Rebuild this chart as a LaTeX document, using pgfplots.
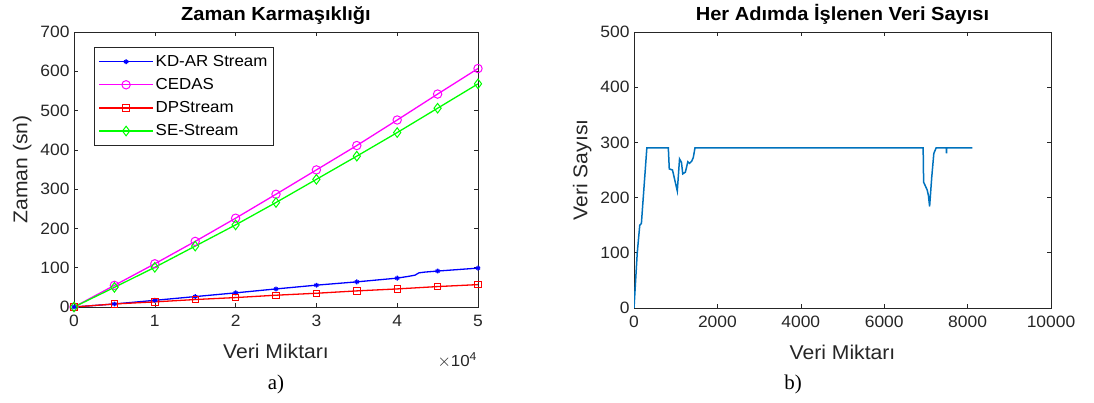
\documentclass[border=0pt]{standalone}
\usepackage{fontspec}
\setmainfont{Liberation Sans}[FakeStretch=1.06]
\newfontfamily\capfont{Liberation Serif}
\usepackage{pgfplots}
\pgfplotsset{compat=1.18}
\definecolor{axgray}{rgb}{0.15,0.15,0.15}
\definecolor{mblue}{rgb}{0,0.447,0.741}
\definecolor{mmag}{rgb}{1,0,1}
\definecolor{mgreen}{rgb}{0,1,0}
\definecolor{mred}{rgb}{1,0,0}
\definecolor{mbl}{rgb}{0,0,1}
\pgfplotsset{
  mstyle/.style={
    scale only axis,
    axis line style={axgray, line width=0.6bp},
    tick style={axgray, line width=0.6bp},
    tick align=inside,
    major tick length=4bp,
    ticklabel style={font=\fontsize{16.5}{16.5}\selectfont, text=axgray},
    xticklabel style={yshift=-5bp},
    yticklabel style={xshift=-1bp},
    label style={font=\fontsize{20}{20}\selectfont, text=axgray},
    title style={font=\fontsize{19}{19}\selectfont\bfseries},
    /pgf/number format/assume math mode=true,
    /pgf/number format/1000 sep={},
    scaled ticks=false,
    clip=true,
  }
}
\begin{document}
\begin{tikzpicture}
\path[use as bounding box] (0,0) rectangle (1094bp,403bp);
% ---------- left -------------
\begin{axis}[mstyle,
  at={(74bp,96bp)}, anchor=south west,
  width=404bp, height=275bp,
  xmin=0, xmax=5, ymin=0, ymax=700,
  xtick={0,1,2,3,4,5}, ytick={0,100,...,700},
  title={Zaman Karmaşıklığı},
  title style={at={(0.5,1)}, anchor=south, yshift=-2bp},
  xlabel={Veri Miktarı}, ylabel={Zaman (sn)},
  xlabel style={at={(0.5,0)}, anchor=north, yshift=-34bp},
  ylabel style={at={(0,0.5)}, anchor=south, yshift=39bp},
  legend style={at={(0.05,0.945)}, anchor=north west, draw=axgray, line width=0.5bp,
    font=\fontsize{16}{16}\selectfont, row sep=6.5bp, inner xsep=4bp, inner ysep=6bp},
  legend cell align=left,
  legend image code/.code={\draw[#1, line width=1.3bp] (0bp,0bp) -- (54bp,0bp); \draw[#1, only marks] plot coordinates {(27bp,0bp)};},
]
\addplot[mbl, line width=1.3bp, mark=asterisk, mark size=2.4bp, mark options={line width=1.3bp}, mark indices={1,2,3,4,5,6,7,8,9,14,15}] coordinates {
(0,0) (0.5,7.7) (1,17) (1.5,26.5) (2,36) (2.5,46) (3,55.6) (3.5,64) (4,73.5)
(4.14,78) (4.22,81) (4.27,87) (4.35,89) (4.5,91.5) (5,99)};
\addlegendentry{KD-AR Stream}
\addplot[mmag, line width=1.3bp, mark=o, mark size=4.2bp, mark options={line width=1bp}] coordinates {
(0,0) (0.5,55) (1,110) (1.5,167) (2,226) (2.5,287) (3,349) (3.5,411) (4,476) (4.5,542) (5,607)};
\addlegendentry{CEDAS}
\addplot[mred, line width=1.3bp, mark=square, mark size=3.2bp, mark options={line width=1bp}] coordinates {
(0,0) (0.5,7.7) (1,13) (1.5,19) (2,24) (2.5,30) (3,35) (3.5,41) (4,46) (4.5,52) (5,57)};
\addlegendentry{DPStream}
\addplot[mgreen, line width=1.3bp, mark=diamond, mark size=4.8bp, mark options={line width=1bp}] coordinates {
(0,0) (0.5,50) (1,101) (1.5,155) (2,209) (2.5,266) (3,325) (3.5,384) (4,444) (4.5,506) (5,568)};
\addlegendentry{SE-Stream}
\end{axis}
\node[text=axgray, font=\fontsize{16}{16}\selectfont, anchor=east] at (480bp,43bp) {$\times$10\raisebox{6bp}{\fontsize{11.5}{11.5}\selectfont 4}};
\node[font=\capfont\fontsize{21}{21}\selectfont] at (276bp,19bp) {a)};
% ---------- right -------------
\begin{axis}[mstyle,
  at={(634bp,95bp)}, anchor=south west,
  width=417bp, height=276bp,
  xmin=0, xmax=10000, ymin=0, ymax=500,
  xtick={0,2000,...,10000}, ytick={0,100,...,500},
  title={Her Adımda İşlenen Veri Sayısı},
  title style={at={(0.5,1)}, anchor=south, yshift=-2bp},
  xlabel={Veri Miktarı}, ylabel={Veri Sayısı},
  xlabel style={at={(0.5,0)}, anchor=north, yshift=-34bp},
  ylabel style={at={(0,0.5)}, anchor=south, yshift=39bp},
]
\addplot[mblue, line width=1.5bp] coordinates {
(0,0) (77,99) (138,150) (177,153) (308,290) (823,290) (846,252) (923,250) (1038,212)
(1092,270) (1138,264) (1169,243) (1231,246) (1292,265) (1331,262) (1385,266) (1423,273)
(1462,290) (6934,290) (6945,228) (7030,214) (7060,204) (7089,184) (7140,237) (7190,280)
(7245,290) (7488,290) (7494,280) (7500,290) (8117,290)};
\end{axis}
\node[font=\capfont\fontsize{21}{21}\selectfont] at (793bp,19bp) {b)};
\end{tikzpicture}
\end{document}
